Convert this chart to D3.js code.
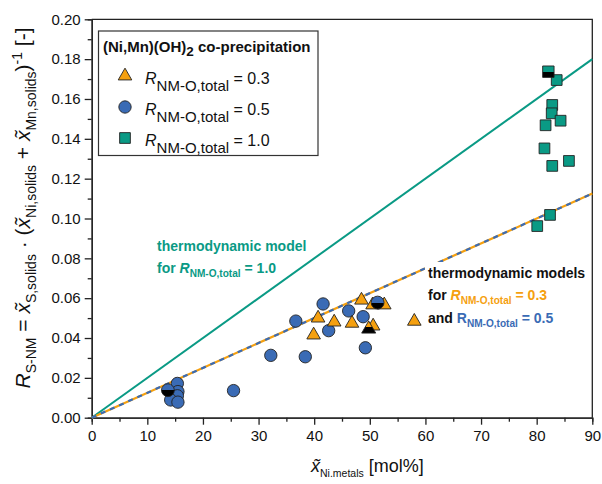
<!DOCTYPE html>
<html lang="en">
<head>
<meta charset="utf-8">
<title>R S-NM vs x Ni,metals</title>
<style>
  body { margin: 0; background: #fff; }
  text { font-family: "Liberation Sans", Arial, sans-serif; fill: #111; }
  .axis path, .axis line { stroke: #222; stroke-width: 1.3px; }
  .axis text { font-size: 15px; fill: #111; }
</style>
</head>
<body>
<script src="https://cdn.jsdelivr.net/npm/d3@7"></script>
<script>
// data
var triX = [48.5, 40.7, 43.6, 46.8, 39.9, 50.6, 50.5, 52.6, 58.0];
var triY = [0.0590, 0.0500, 0.0480, 0.0474, 0.0415, 0.0460, 0.0566, 0.0566, 0.0484];
var triHalfX = [49.8];
var triHalfY = [0.0445];

var circX = [41.6, 36.7, 46.2, 48.8, 42.6, 49.2, 32.2, 38.4, 25.5, 15.4, 15.5, 15.4, 14.2, 15.5];
var circY = [0.0571, 0.0485, 0.0536, 0.0507, 0.0437, 0.0351, 0.0313, 0.0306, 0.0136, 0.0172, 0.0131, 0.0110, 0.0089, 0.0078];
var circHalfX = [13.7, 51.4];
var circHalfY = [0.0138, 0.0578];

var sqX = [83.6, 82.8, 82.7, 84.3, 81.6, 81.4, 85.8, 82.8, 82.4, 80.1];
var sqY = [0.1695, 0.1570, 0.1528, 0.1491, 0.1468, 0.1352, 0.1289, 0.1264, 0.1018, 0.0962];
var sqHalfX = [82.1];
var sqHalfY = [0.1737];

// thermodynamic model lines (start and end)
var modelX = [0, 90];
var model10Y = [0, 0.180];
var model0305Y = [0, 0.1125];

var xTicks = [0, 10, 20, 30, 40, 50, 60, 70, 80, 90];
var yTicks = [0, 0.02, 0.04, 0.06, 0.08, 0.10, 0.12, 0.14, 0.16, 0.18, 0.20];

var orange = "#F5A00F", blue = "#3A6BB5", teal = "#0A9A85";

var w = 602, h = 484;
var m = {left: 91.7, right: 9.7, top: 19.3, bottom: 66.3};

var svg = d3.select("body").append("svg").attr("width", w).attr("height", h);

var x = d3.scaleLinear().domain([0, 90]).range([m.left, w - m.right]);
var y = d3.scaleLinear().domain([0, 0.2]).range([h - m.bottom, m.top]);

// half filled gradients (top colour, bottom black)
var defs = svg.append("defs");
[["halfO", orange], ["halfB", blue], ["halfT", teal]].forEach(function(g) {
  var lg = defs.append("linearGradient").attr("id", g[0])
    .attr("x1", 0).attr("y1", 0).attr("x2", 0).attr("y2", 1);
  lg.append("stop").attr("offset", "0.5").attr("stop-color", g[1]);
  lg.append("stop").attr("offset", "0.5").attr("stop-color", "#000");
});

// helper for text with sub/superscripts; subSize = font size of the small parts
function rich(sel, parts, size, subSize, subDy) {
  subSize = subSize || size * 0.72;
  subDy = subDy || size * 0.3;
  var shift = 0;
  parts.forEach(function(p) {
    var target = p.sub ? subDy : p.sup ? -size * 0.4 : 0;
    var ts = sel.append("tspan").text(p.t).attr("dy", target - shift);
    shift = target;
    if (p.sub || p.sup) ts.attr("font-size", subSize);
    if (p.i) ts.attr("font-style", "italic");
    if (p.fill) ts.style("fill", p.fill);
  });
}

// frame (top and right)
svg.append("path")
  .attr("d", "M" + x(0) + "," + y(0.2) + "H" + x(90) + "V" + y(0))
  .attr("fill", "none").attr("stroke", "#222").attr("stroke-width", 1.3);

// axes with major and minor ticks
svg.append("g").attr("class", "axis")
  .attr("transform", "translate(0," + y(0) + ")")
  .call(d3.axisBottom(x).tickValues(d3.range(5, 90, 10)).tickSize(4).tickFormat(""));
svg.append("g").attr("class", "axis")
  .attr("transform", "translate(0," + y(0) + ")")
  .call(d3.axisBottom(x).tickValues(xTicks).tickSize(7).tickPadding(6).tickSizeOuter(0));

svg.append("g").attr("class", "axis")
  .attr("transform", "translate(" + x(0) + ",0)")
  .call(d3.axisLeft(y).tickValues(d3.range(0.01, 0.2, 0.02)).tickSize(4).tickFormat(""));
svg.append("g").attr("class", "axis")
  .attr("transform", "translate(" + x(0) + ",0)")
  .call(d3.axisLeft(y).tickValues(yTicks).tickSize(7).tickPadding(4).tickSizeOuter(0)
    .tickFormat(d3.format(".2f")));

// model lines
var line = d3.line().x(function(d) { return x(d[0]); }).y(function(d) { return y(d[1]); });
svg.append("path").datum(d3.zip(modelX, model10Y)).attr("d", line)
  .attr("fill", "none").attr("stroke", teal).attr("stroke-width", 2);
svg.append("path").datum(d3.zip(modelX, model0305Y)).attr("d", line)
  .attr("fill", "none").attr("stroke", orange).attr("stroke-width", 2.2);
svg.append("path").datum(d3.zip(modelX, model0305Y)).attr("d", line)
  .attr("fill", "none").attr("stroke", blue).attr("stroke-width", 2.2)
  .attr("stroke-dasharray", "5,5");

// markers
function marks(xs, ys, type, size, fill) {
  svg.append("g").selectAll("path")
    .data(d3.zip(xs, ys))
    .enter().append("path")
    .attr("transform", function(d) { return "translate(" + x(d[0]) + "," + y(d[1]) + ")"; })
    .attr("d", d3.symbol().type(type).size(size))
    .attr("fill", fill).attr("stroke", "#222").attr("stroke-width", 0.9);
}
marks(circX, circY, d3.symbolCircle, 120, blue);
marks(triX, triY, d3.symbolTriangle, 80, orange);
marks(sqX, sqY, d3.symbolSquare, 115, teal);
marks(circHalfX, circHalfY, d3.symbolCircle, 130, "url(#halfB)");
marks(triHalfX, triHalfY, d3.symbolTriangle, 85, "url(#halfO)");
marks(sqHalfX, sqHalfY, d3.symbolSquare, 130, "url(#halfT)");

// legend
var lg = svg.append("g");
lg.append("rect").attr("x", 98.5).attr("y", 31).attr("width", 219.5).attr("height", 124.5)
  .attr("fill", "#fff").attr("stroke", "#333").attr("stroke-width", 1.2);
var lt = lg.append("text").attr("x", 103).attr("y", 52).attr("font-size", 15).attr("font-weight", "bold");
rich(lt, [{t: "(Ni,Mn)(OH)"}, {t: "2", sub: true}, {t: " co-precipitation"}], 15, 13.5, 4);

var legendItems = [
  {type: d3.symbolTriangle, size: 80, fill: orange, label: "= 0.3"},
  {type: d3.symbolCircle, size: 120, fill: blue, label: "= 0.5"},
  {type: d3.symbolSquare, size: 115, fill: teal, label: "= 1.0"}
];
legendItems.forEach(function(it, i) {
  var yy = 76 + i * 31;
  lg.append("path").attr("transform", "translate(125," + yy + ")")
    .attr("d", d3.symbol().type(it.type).size(it.size))
    .attr("fill", it.fill).attr("stroke", "#222").attr("stroke-width", 0.9);
  var t = lg.append("text").attr("x", 145).attr("y", yy + 8).attr("font-size", 16);
  rich(t, [{t: "R", i: true}, {t: "NM-O,total", sub: true}, {t: " " + it.label}], 16, 15, 7);
});

// annotation for R = 1.0
var a1 = svg.append("g").attr("font-weight", "bold").attr("font-size", 14);
a1.append("text").attr("x", 157).attr("y", 251).style("fill", teal).text("thermodynamic model");
var a1b = a1.append("text").attr("x", 157).attr("y", 273).style("fill", teal);
rich(a1b, [{t: "for "}, {t: "R", i: true}, {t: "NM-O,total", sub: true}, {t: " = 1.0"}], 14);

// annotation for R = 0.3 / 0.5
var a2 = svg.append("g").attr("font-weight", "bold").attr("font-size", 14);
a2.append("rect").attr("x", 425).attr("y", 262).attr("width", 165).attr("height", 68).attr("fill", "#fff");
a2.append("text").attr("x", 428).attr("y", 278).text("thermodynamic models");
var a2b = a2.append("text").attr("x", 428).attr("y", 300);
rich(a2b, [{t: "for "}, {t: "R", i: true, fill: orange}, {t: "NM-O,total", sub: true, fill: orange},
  {t: " = 0.3", fill: orange}], 14);
var a2c = a2.append("text").attr("x", 428).attr("y", 323);
rich(a2c, [{t: "and "}, {t: "R", fill: blue}, {t: "NM-O,total", sub: true, fill: blue},
  {t: " = 0.5", fill: blue}], 14);

// axis titles
var xt = svg.append("text").attr("x", 311).attr("y", 472).attr("font-size", 18);
rich(xt, [{t: "x\u0303", i: true}, {t: "Ni.metals", sub: true}, {t: " [mol%]"}], 18, 10.5, 5);

var yt = svg.append("text").attr("transform", "translate(30," + 208 + ") rotate(-90)")
  .attr("text-anchor", "middle").attr("font-size", 21);
rich(yt, [{t: "R", i: true}, {t: "S-NM", sub: true}, {t: " = "}, {t: "x\u0303", i: true},
  {t: "S,solids", sub: true}, {t: " \u00b7 ("}, {t: "x\u0303", i: true}, {t: "Ni,solids", sub: true},
  {t: " + "}, {t: "x\u0303", i: true}, {t: "Mn,solids", sub: true}, {t: ")"}, {t: "-1", sup: true},
  {t: " [-]"}], 21, 14, 6);
</script>
</body>
</html>
